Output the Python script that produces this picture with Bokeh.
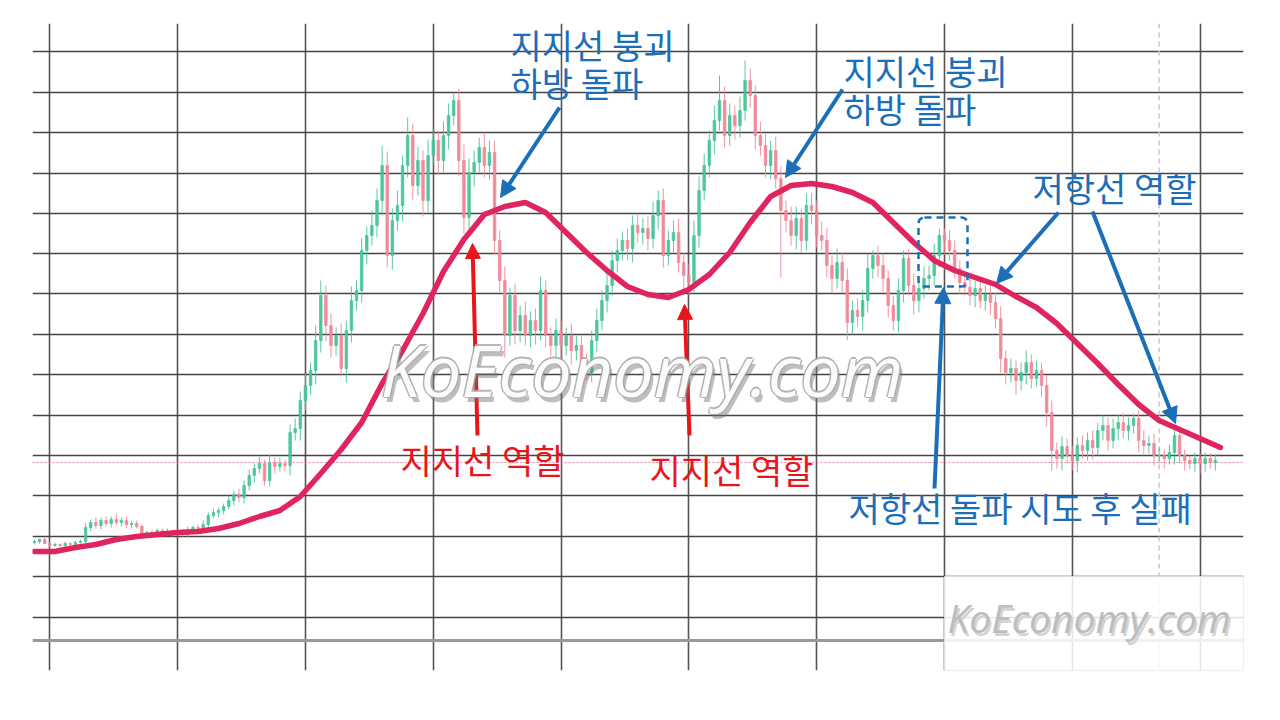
from bokeh.plotting import figure
from bokeh.models import (Range1d, FixedTicker, Span, Arrow, NormalHead, Label,
                          BoxAnnotation, ColumnDataSource, Grid)
from bokeh.embed import file_html
from bokeh.resources import INLINE

# ---------------- data (price units, arbitrary scale) ----------------
first_open = 75
closes = [
    76, 78, 74, 72, 73, 72, 74, 73, 75, 76,
    90, 95, 92, 97, 94, 98, 95, 97, 93, 94,
    91, 84, 85, 83, 87, 84, 86, 84, 86, 83,
    88, 90, 89, 93, 102, 105, 107, 111, 117, 123,
    120, 132, 142, 149, 154, 137, 155, 151, 154, 152,
    185, 189, 217, 232, 247, 277, 322, 292, 272, 282,
    249, 287, 317, 327, 367, 382, 392, 417, 452, 362,
    397, 412, 452, 482, 432, 457, 417, 462, 477, 457,
    482, 502, 517, 457, 400, 445, 455, 470, 452, 465,
    377, 337, 282, 322, 287, 302, 282, 297, 287, 327,
    282, 272, 287, 272, 282, 267, 272, 257, 245, 277,
    297, 317, 332, 357, 367, 377, 369, 392, 385, 389,
    379, 402, 417, 362, 377, 385, 355, 342, 335, 382,
    427, 452, 477, 497, 517, 482, 502, 492, 507, 537,
    522, 482, 472, 452, 467, 439, 407, 397, 382, 399,
    377, 412, 407, 382, 377, 352, 339, 355, 337, 295,
    307, 301, 317, 349, 362, 352, 339, 312, 297, 327,
    359, 332, 317, 329, 339, 342, 362, 382, 377, 367,
    349, 335, 330, 322, 329, 317, 323, 315, 299, 259,
    245, 249, 237, 245, 255, 239, 247, 232, 205, 167,
    159, 171, 162, 157, 172, 167, 177, 170, 187, 192,
    177, 189, 195, 187, 192, 199, 177, 172, 174, 162,
    162, 159, 165, 182, 162, 157, 154, 159, 154, 159,
    155, 157,
]
upper_wick = [
    2, 1, 2, 1, 2, 1, 2, 1, 2, 2,
    4, 3, 5, 3, 4, 3, 6, 3, 4, 3,
    3, 2, 2, 3, 2, 2, 3, 2, 2, 2,
    3, 2, 3, 4, 3, 4, 3, 3, 5, 4,
    6, 5, 6, 5, 7, 4, 8, 5, 6, 4,
    8, 10, 9, 12, 8, 15, 15, 10, 12, 8,
    12, 10, 14, 10, 12, 9, 15, 12, 20, 14,
    12, 15, 10, 18, 12, 14, 10, 16, 12, 10,
    14, 12, 8, 12, 16, 14, 12, 10, 15, 12,
    12, 10, 14, 8, 12, 10, 14, 9, 12, 14,
    10, 8, 12, 10, 8, 12, 10, 9, 7, 10,
    12, 10, 14, 10, 12, 9, 12, 10, 12, 10,
    12, 14, 10, 12, 10, 12, 14, 10, 12, 15,
    14, 12, 10, 15, 25, 14, 12, 10, 14, 20,
    12, 10, 14, 12, 10, 14, 12, 10, 14, 12,
    10, 12, 12, 10, 14, 12, 10, 14, 10, 12,
    10, 12, 10, 14, 5, 10, 12, 8, 10, 12,
    8, 10, 12, 10, 12, 10, 12, 7, 7, 10,
    10, 8, 10, 12, 8, 10, 9, 8, 10, 12,
    8, 10, 8, 10, 12, 8, 10, 8, 10, 12,
    8, 10, 8, 10, 8, 10, 8, 10, 8, 10,
    8, 10, 8, 9, 8, 5, 8, 10, 8, 10,
    8, 6, 8, 5, 8, 6, 5, 6, 5, 6,
    5, 6,
]
lower_wick = [
    2, 2, 1, 2, 1, 2, 2, 1, 2, 1,
    3, 4, 3, 4, 3, 4, 3, 4, 3, 4,
    2, 4, 3, 3, 2, 3, 2, 3, 3, 2,
    3, 3, 2, 4, 3, 3, 5, 4, 3, 5,
    5, 6, 5, 7, 5, 5, 6, 7, 5, 6,
    10, 8, 12, 10, 9, 14, 12, 16, 12, 10,
    8, 14, 12, 10, 12, 14, 10, 12, 15, 12,
    14, 10, 16, 12, 14, 10, 16, 12, 10, 14,
    12, 14, 10, 16, 16, 12, 14, 10, 12, 14,
    14, 12, 22, 10, 14, 12, 10, 12, 14, 10,
    12, 10, 14, 12, 10, 14, 10, 12, 8, 10,
    12, 10, 12, 10, 12, 10, 12, 14, 10, 12,
    12, 10, 14, 12, 10, 12, 10, 14, 12, 10,
    12, 10, 12, 14, 10, 12, 10, 14, 12, 10,
    12, 14, 10, 12, 14, 10, 67, 12, 10, 14,
    12, 10, 14, 12, 10, 12, 14, 10, 12, 18,
    12, 10, 14, 12, 10, 12, 14, 12, 10, 12,
    12, 10, 14, 12, 10, 12, 10, 12, 14, 10,
    10, 12, 8, 10, 12, 8, 10, 12, 10, 14,
    12, 10, 14, 10, 12, 10, 8, 12, 14, 20,
    10, 12, 8, 10, 12, 8, 10, 12, 8, 10,
    10, 8, 12, 8, 10, 8, 12, 10, 8, 10,
    8, 10, 6, 12, 8, 10, 6, 8, 10, 8,
    6, 8,
]
ma_index = list(range(0, 233, 4))
ma_values = [66, 66, 70, 73, 78, 81, 83, 85, 86, 89,
             94, 101, 107, 121, 144, 168, 195, 234, 267, 304,
             346, 378, 403, 411, 415, 405, 385, 365, 347, 331,
             323, 320, 328, 343, 365, 395, 421, 432, 434, 431,
             425, 415, 395, 375, 357, 347, 340, 333, 321, 310,
             294, 274, 254, 233, 213, 197, 188, 179, 170]
grid_days = [3, 28, 53, 78, 103, 128, 153, 178, 203, 228]
grid_levels = [0, 41, 81, 122, 162, 202, 243, 283, 324, 364, 404, 444, 485, 525, 566]
last_price_level = 155
base_level = -23
cursor_day = 220

# ---------------- helpers to place annotations ----------------
def X(px):
    return (px - 34) / 5.112

def Y(py):
    return 617 - py

UP = "#45c496"
DOWN = "#ef8795"
BLUE = "#1b6fb8"
RED = "#e8161b"
MA = "#e0245e"
KR = "Noto Sans CJK KR"

opens = [first_open] + closes[:-1]
idx = list(range(len(closes)))
tops = [max(o, c) for o, c in zip(opens, closes)]
bots = [min(o, c) for o, c in zip(opens, closes)]
highs = [t + u for t, u in zip(tops, upper_wick)]
lows = [b - l for b, l in zip(bots, lower_wick)]
colors = [UP if c >= o else DOWN for o, c in zip(opens, closes)]
src = ColumnDataSource(dict(i=idx, top=tops, bottom=bots, high=highs, low=lows, color=colors))

p = figure(frame_width=1211, frame_height=647,
           min_border_left=32, min_border_right=29, min_border_top=23, min_border_bottom=42,
           x_axis_type=None, y_axis_type=None,
           x_range=Range1d(X(32), X(1243)), y_range=Range1d(Y(670), Y(23)),
           output_backend="svg", toolbar_location=None)
p.outline_line_color = None
p.background_fill_color = "white"
p.border_fill_color = "white"

p.add_layout(Grid(dimension=0, ticker=FixedTicker(ticks=grid_days),
                  grid_line_color="#555555", grid_line_width=1.6))
p.add_layout(Grid(dimension=1, ticker=FixedTicker(ticks=grid_levels),
                  grid_line_color="#444444", grid_line_width=1.6))

p.add_layout(Span(location=cursor_day, dimension="height", line_color="#c8c8c8",
                  line_dash="5 4", line_width=1.5, level="underlay"))
p.add_layout(Span(location=base_level, dimension="width", line_color="#9a9a9a",
                  line_width=3, level="underlay"))
p.add_layout(Span(location=last_price_level, dimension="width", line_color="#f06292",
                  line_dash="2 2", line_width=1, line_alpha=0.8, level="underlay"))

# candles
p.segment(x0="i", y0="low", x1="i", y1="high", line_color="color", line_width=1,
          line_alpha=0.9, source=src)
p.vbar(x="i", width=0.5, top="top", bottom="bottom", fill_color="color",
       line_color="color", line_width=0.8, fill_alpha=0.9, line_alpha=0.9, source=src)

# moving average
p.line(ma_index, ma_values, line_color=MA, line_width=5.5, line_join="round", line_cap="round")

# dashed box
p.add_layout(BoxAnnotation(left=X(918), right=X(967), top=Y(217), bottom=Y(286),
                           fill_alpha=0, line_color=BLUE, line_alpha=1.0, line_dash="7 5",
                           line_width=2.5, border_radius=6))

# arrows
def arrow(x0, y0, x1, y1, color, size=16):
    p.add_layout(Arrow(x_start=X(x0), y_start=Y(y0), x_end=X(x1), y_end=Y(y1),
                       line_color=color, line_width=4,
                       end=NormalHead(size=size, fill_color=color, line_color=color, line_width=1)))

arrow(559, 107, 500, 197, BLUE)
arrow(842, 89, 785, 177, BLUE)
arrow(1058, 212, 996, 283, BLUE)
arrow(1092, 211, 1175, 423, BLUE)
arrow(934, 488, 943, 287, BLUE)
arrow(477, 435, 472, 243, RED, 15)
arrow(689, 435, 684, 304, RED, 15)

# texts
def label(px, py, text, color, size="34px"):
    p.add_layout(Label(x=X(px), y=Y(py), text=text, text_color=color, text_font=KR,
                       text_font_size=size, text_baseline="middle", text_align="left"))

label(510, 44, "지지선 붕괴", BLUE)
label(510, 82, "하방 돌파", BLUE)
label(843, 70, "지지선 붕괴", BLUE)
label(843, 108, "하방 돌파", BLUE)
label(1032, 187, "저항선 역할", BLUE)
label(400, 459, "지지선 역할", RED)
label(649, 469, "지지선 역할", RED)
label(848, 507, "저항선 돌파 시도 후 실패", BLUE)

# center watermark
wm = "KoEconomy.com"
WMX, WMY = X(380), Y(368)
p.add_layout(Label(x=WMX, y=WMY, text=wm, text_font="Open Sans", text_font_style="italic",
                   text_font_size="72px", text_color="#6e6e6e", text_alpha=0.45,
                   x_offset=3, y_offset=-5, text_baseline="alphabetic"))
for dx, dy in [(-1.5, 0), (1.5, 0), (0, 1.5), (0, -1.5)]:
    p.add_layout(Label(x=WMX, y=WMY, text=wm, text_font="Open Sans", text_font_style="italic",
                       text_font_size="72px", text_color="#a8a8a8", text_alpha=0.85,
                       x_offset=dx, y_offset=dy, text_baseline="alphabetic"))
p.add_layout(Label(x=WMX, y=WMY, text=wm, text_font="Open Sans", text_font_style="italic",
                   text_font_size="72px", text_color="#fbfbfb", text_baseline="alphabetic"))

# bottom-right watermark panel
p.add_layout(BoxAnnotation(left=X(944), right=X(1243), top=Y(576), bottom=Y(670),
                           fill_color="white", fill_alpha=0.86, line_color="#dddddd",
                           line_alpha=1.0, line_width=1))
p.add_layout(Label(x=X(947), y=Y(617), text=wm, text_font="Open Sans", text_font_style="italic",
                   text_font_size="39px", text_color="#d4d4d4", x_offset=2, y_offset=-3,
                   text_baseline="alphabetic"))
p.add_layout(Label(x=X(947), y=Y(617), text=wm, text_font="Open Sans", text_font_style="italic",
                   text_font_size="39px", text_color="#bdbdbd", text_baseline="alphabetic"))

open("out.html", "w").write(file_html(p, INLINE))
